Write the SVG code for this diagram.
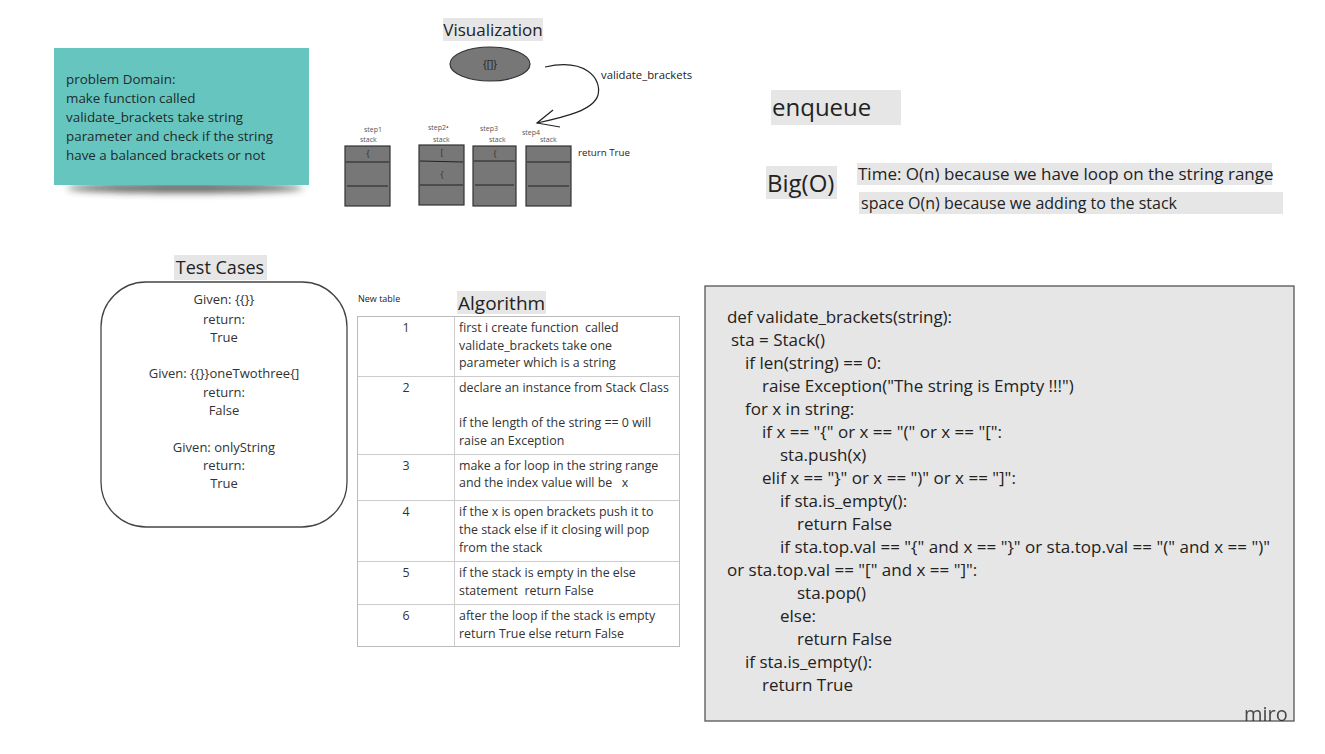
<svg xmlns="http://www.w3.org/2000/svg" width="1325" height="754" viewBox="0 0 1325 754">
<style>
  text { font-family: "Open Sans", "Noto Sans", sans-serif; fill: #222; white-space: pre; }
  .lbl { fill: #e6e6e6; }
  .note { font-size: 13.4px; fill: #1f2b2a; }
  .tc { font-size: 13px; text-anchor: middle; fill: #333; }
  .cell { font-size: 12.4px; fill: #333; }
  .num { font-size: 12.4px; fill: #333; text-anchor: middle; }
  .code { font-family: "Open Sans", "Noto Sans", sans-serif; font-size: 17px; fill: #222; }
  .small { font-size: 7px; fill: #555; }
  .stack { fill: #777; stroke: #333; stroke-width: 1.2; }
  .div { stroke: #222; stroke-width: 1; }
  .grid { stroke: #ccc; stroke-width: 1; fill: none; }
  .sym { font-size: 9px; fill: #333; text-anchor: middle; }
</style>
<defs>
  <filter id="blur" x="-20%" y="-100%" width="140%" height="300%">
    <feGaussianBlur stdDeviation="3.5"/>
  </filter>
</defs>

<g id="problem-domain">
  <ellipse cx="185" cy="188" rx="118" ry="5" fill="#333" opacity="0.75" filter="url(#blur)"/>
  <rect x="54" y="48" width="255" height="137" fill="#66c6bf"/>
  <text class="note" x="66" y="84">problem Domain:</text>
  <text class="note" x="66" y="103">make function called</text>
  <text class="note" x="66" y="122">validate_brackets take string</text>
  <text class="note" x="66" y="141">parameter and check if the string</text>
  <text class="note" x="66" y="160">have a balanced brackets or not</text>
</g>

<g id="visualization-title">
  <rect class="lbl" x="443" y="18" width="100" height="23"/>
  <text x="493" y="36" font-size="17" text-anchor="middle" fill="#333">Visualization</text>
</g>

<g id="input-ellipse">
  <ellipse cx="490" cy="64" rx="40" ry="17" fill="#777" stroke="#333" stroke-width="1.2"/>
  <text x="490" y="68" font-size="10" text-anchor="middle" fill="#333">{[]}</text>
</g>

<g id="connectors">
  <path d="M545,67 C585,58 602,78 598,95 C594,110 565,117 537,123" fill="none" stroke="#222" stroke-width="1.2"/>
  <path d="M553,110 L537,123 L560,127" fill="none" stroke="#222" stroke-width="1.2"/>
  <text x="601" y="79" font-size="11.3" fill="#333">validate_brackets</text>
</g>

<g id="stack1">
  <text class="small" x="364" y="132">step1</text>
  <text class="small" x="360" y="142">stack</text>
  <rect class="stack" x="345" y="146" width="45" height="60"/>
  <line class="div" x1="346" y1="162" x2="389" y2="162"/>
  <line class="div" x1="347" y1="186" x2="388" y2="186"/>
  <text class="sym" x="368" y="157">{</text>
</g>

<g id="stack2">
  <text class="small" x="428" y="130">step2•</text>
  <text class="small" x="433" y="142">stack</text>
  <rect class="stack" x="419" y="145" width="45" height="60"/>
  <line class="div" x1="420" y1="161" x2="463" y2="162"/>
  <line class="div" x1="420" y1="185" x2="463" y2="185"/>
  <text class="sym" x="442" y="156">[</text>
  <text class="sym" x="442" y="178">{</text>
</g>

<g id="stack3">
  <text class="small" x="480" y="131">step3</text>
  <text class="small" x="489" y="142">stack</text>
  <rect class="stack" x="473" y="146" width="43" height="60"/>
  <line class="div" x1="474" y1="161" x2="515" y2="161"/>
  <line class="div" x1="475" y1="185" x2="514" y2="185"/>
  <text class="sym" x="495" y="157">{</text>
</g>

<g id="stack4">
  <text class="small" x="522" y="135">step4</text>
  <text class="small" x="540" y="142">stack</text>
  <rect class="stack" x="526" y="146" width="45" height="60"/>
  <line class="div" x1="527" y1="162" x2="570" y2="162"/>
  <line class="div" x1="528" y1="186" x2="569" y2="186"/>
  <text x="578" y="156" font-size="9.7" fill="#222">return True</text>
</g>

<g id="enqueue">
  <rect class="lbl" x="771" y="90" width="130" height="35"/>
  <text x="772" y="116" font-size="24" fill="#222">enqueue</text>
</g>

<g id="bigo">
  <rect class="lbl" x="766" y="166" width="71" height="33"/>
  <text x="767" y="192" font-size="24" fill="#222">Big(O)</text>
  <rect class="lbl" x="857" y="163" width="415" height="22"/>
  <text x="858" y="180" font-size="17" fill="#222">Time: O(n) because we have loop on the string range</text>
  <rect class="lbl" x="859" y="192" width="424" height="22"/>
  <text x="861" y="209" font-size="16" fill="#222">space O(n) because we adding to the stack</text>
</g>

<g id="test-cases">
  <rect class="lbl" x="174" y="255" width="93" height="25"/>
  <text x="220" y="274" font-size="18" text-anchor="middle" fill="#333">Test Cases</text>
  <rect x="101" y="282" width="246" height="245" rx="45" ry="45" fill="#fff" stroke="#444" stroke-width="1.3"/>
  <text class="tc" x="224" y="304">Given: {{}}</text>
  <text class="tc" x="224" y="324">return:</text>
  <text class="tc" x="224" y="342">True</text>
  <text class="tc" x="224" y="378">Given: {{}}oneTwothree{]</text>
  <text class="tc" x="224" y="397">return:</text>
  <text class="tc" x="224" y="415">False</text>
  <text class="tc" x="224" y="452">Given: onlyString</text>
  <text class="tc" x="224" y="470">return:</text>
  <text class="tc" x="224" y="488">True</text>
</g>

<g id="algorithm">
  <text x="358" y="302" font-size="9" fill="#444">New table</text>
  <rect class="lbl" x="457" y="291" width="89" height="23"/>
  <text x="458" y="310" font-size="19" fill="#333">Algorithm</text>
  <rect x="357.5" y="316.5" width="322" height="330" fill="#fff" stroke="#bbb" stroke-width="1"/>
  <line class="grid" x1="454.5" y1="317" x2="454.5" y2="646"/>
  <line class="grid" x1="358" y1="376.5" x2="679" y2="376.5"/>
  <line class="grid" x1="358" y1="454.5" x2="679" y2="454.5"/>
  <line class="grid" x1="358" y1="500.5" x2="679" y2="500.5"/>
  <line class="grid" x1="358" y1="561.5" x2="679" y2="561.5"/>
  <line class="grid" x1="358" y1="604.5" x2="679" y2="604.5"/>

  <text class="num" x="406" y="332">1</text>
  <text class="cell" x="459" y="332">first i create function  called</text>
  <text class="cell" x="459" y="350">validate_brackets take one</text>
  <text class="cell" x="459" y="367">parameter which is a string</text>

  <text class="num" x="406" y="392">2</text>
  <text class="cell" x="459" y="392">declare an instance from Stack Class</text>
  <text class="cell" x="459" y="427">if the length of the string == 0 will</text>
  <text class="cell" x="459" y="445">raise an Exception</text>

  <text class="num" x="406" y="470">3</text>
  <text class="cell" x="459" y="470">make a for loop in the string range</text>
  <text class="cell" x="459" y="487">and the index value will be   x</text>

  <text class="num" x="406" y="516">4</text>
  <text class="cell" x="459" y="516">if the x is open brackets push it to</text>
  <text class="cell" x="459" y="534">the stack else if it closing will pop</text>
  <text class="cell" x="459" y="552">from the stack</text>

  <text class="num" x="406" y="577">5</text>
  <text class="cell" x="459" y="577">if the stack is empty in the else</text>
  <text class="cell" x="459" y="595">statement  return False</text>

  <text class="num" x="406" y="620">6</text>
  <text class="cell" x="459" y="620">after the loop if the stack is empty</text>
  <text class="cell" x="459" y="638">return True else return False</text>
</g>

<g id="code">
  <rect x="705" y="286" width="589" height="435" fill="#e6e6e6" stroke="#555" stroke-width="1.3"/>
  <text class="code" x="727" y="323" textLength="225">def validate_brackets(string):</text>
  <text class="code" x="731" y="346">sta = Stack()</text>
  <text class="code" x="745" y="369">if len(string) == 0:</text>
  <text class="code" x="762" y="392">raise Exception("The string is Empty !!!")</text>
  <text class="code" x="745" y="415">for x in string:</text>
  <text class="code" x="762" y="438">if x == "{" or x == "(" or x == "[":</text>
  <text class="code" x="780" y="461">sta.push(x)</text>
  <text class="code" x="762" y="484">elif x == "}" or x == ")" or x == "]":</text>
  <text class="code" x="780" y="507">if sta.is_empty():</text>
  <text class="code" x="797" y="530">return False</text>
  <text class="code" x="780" y="553" textLength="490">if sta.top.val == "{" and x == "}" or sta.top.val == "(" and x == ")"</text>
  <text class="code" x="727" y="576">or sta.top.val == "[" and x == "]":</text>
  <text class="code" x="797" y="599">sta.pop()</text>
  <text class="code" x="780" y="622">else:</text>
  <text class="code" x="797" y="645">return False</text>
  <text class="code" x="745" y="668">if sta.is_empty():</text>
  <text class="code" x="762" y="691">return True</text>
  <text x="1244" y="721" font-size="20" fill="#c8c8d0" opacity="0.8">miro</text>
</g>
</svg>
